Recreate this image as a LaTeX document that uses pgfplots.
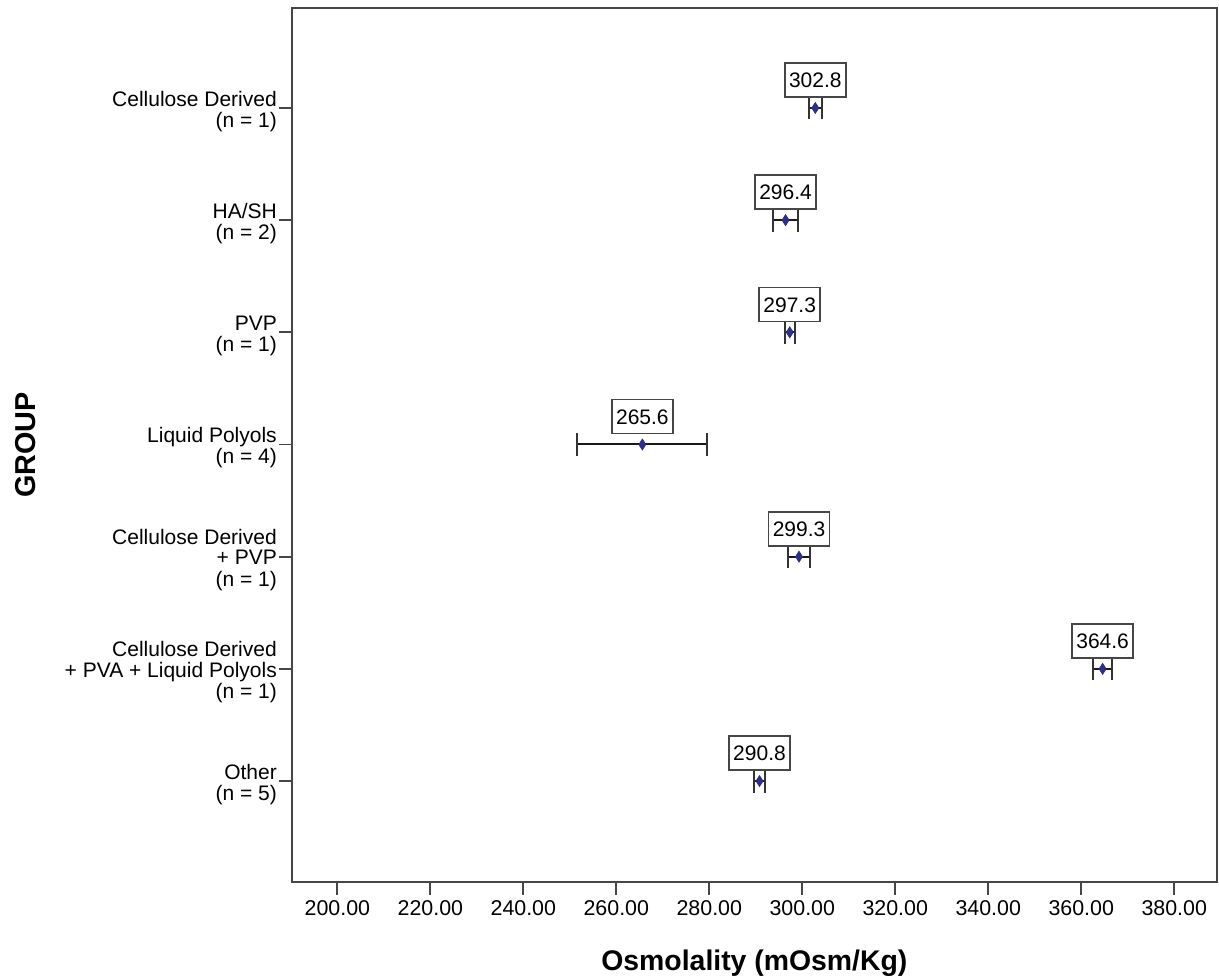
\documentclass[border=0pt]{standalone}
\usepackage{fontspec}
\setmainfont{Liberation Sans}
\usepackage{pgfplots}
\pgfplotsset{compat=1.18}
\usepackage{pgfplotstable}

\definecolor{meanblue}{RGB}{45,45,140}
\definecolor{frame}{RGB}{70,70,70}

% mean osmolality per group, half-width of the error bar, row position (top = 7)
\pgfplotstableread{
pos  mean   err
7    302.8  1.35
6    296.4  2.6
5    297.3  1.1
4    265.6  14.0
3    299.3  2.3
2    364.6  2.05
1    290.8  1.2
}\osmo

\newcommand{\grp}[1]{\begin{tabular}[c]{@{}r@{}}#1\end{tabular}}

\begin{document}
\begin{tikzpicture}
\begin{axis}[
  scale only axis,
  width=462.6pt, height=437pt,
  xmin=190.2, xmax=389.2,
  ymin=0.1, ymax=7.891,
  xtick={200,220,...,380},
  ytick={1,...,7},
  yticklabels={
    {\grp{Other\\(n = 5)}},
    {\grp{Cellulose Derived\\+ PVA + Liquid Polyols\\(n = 1)}},
    {\grp{Cellulose Derived\\+ PVP\\(n = 1)}},
    {\grp{Liquid Polyols\\(n = 4)}},
    {\grp{PVP\\(n = 1)}},
    {\grp{HA/SH\\(n = 2)}},
    {\grp{Cellulose Derived\\(n = 1)}}},
  xtick pos=bottom, ytick pos=left,
  tick align=outside,
  major tick length=6.5pt,
  axis line style={line width=0.9pt, frame},
  tick style={line width=0.9pt, frame},
  /pgf/number format/assume math mode=true,
  xticklabel style={font=\fontsize{10.7}{12}\selectfont, inner ysep=2.8pt,
    /pgf/number format/.cd, fixed, fixed zerofill, precision=2, use period, 1000 sep={}},
  yticklabel style={anchor=east, yshift=-2pt, inner xsep=0.8pt,
    font=\fontsize{10.5}{9.7}\selectfont},
  xlabel={Osmolality (mOsm/Kg)},
  ylabel={GROUP},
  xlabel style={at={(axis description cs:0.5,-0.10069)}, anchor=base,
    font=\fontsize{14.2}{16}\selectfont\bfseries},
  ylabel style={at={(axis description cs:-0.27746,0.5)}, anchor=base, rotate=0,
    font=\fontsize{14.4}{16}\selectfont\bfseries},
  clip=false,
]
\addplot[
  only marks,
  mark=diamond*, mark size=2.7pt,
  mark options={fill=meanblue, draw=meanblue, xscale=0.85},
  error bars/.cd,
    x dir=both, x explicit,
    error mark=|,
    error bar style={line width=1pt, black!90},
    error mark options={line width=1pt, black!80, mark size=5.75pt},
] table[x=mean, y=pos, x error=err] {\osmo};
\addplot[
  only marks, mark=none,
  point meta=explicit,
  nodes near coords={\pgfmathprintnumber[fixed, fixed zerofill, precision=1]{\pgfplotspointmeta}},
  nodes near coords style={anchor=south, yshift=5pt, draw=frame, line width=0.9pt,
    fill=white, inner xsep=2.1pt, inner ysep=4.7pt, text height=7.6pt, text depth=0pt,
    font=\fontsize{10.5}{12}\selectfont, /pgf/number format/assume math mode=true},
] table[x=mean, y=pos, meta=mean] {\osmo};
\end{axis}
\pgfresetboundingbox
\path ([shift={(-145.9pt,-47.5pt)}]current axis.south west)
  rectangle ([shift={(1pt,4pt)}]current axis.north east);
\end{tikzpicture}
\end{document}
